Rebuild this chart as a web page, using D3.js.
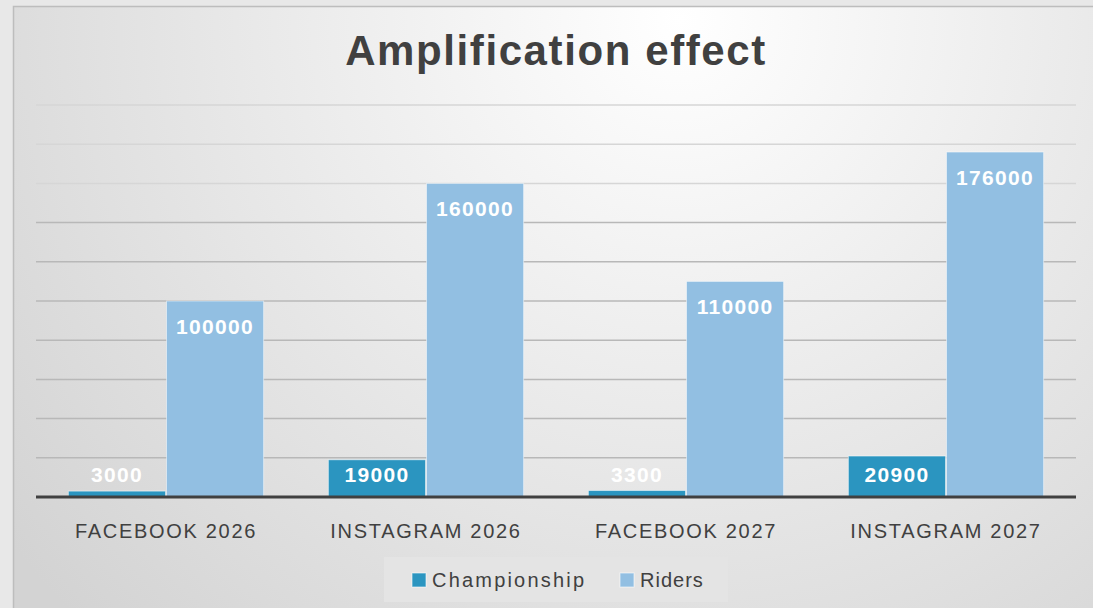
<!DOCTYPE html>
<html lang="en">
<head>
<meta charset="utf-8">
<title>Amplification effect</title>
<script src="https://cdn.jsdelivr.net/npm/d3@7"></script>
<style>
  body { margin: 0; background: #e8e8e8; }
  text { font-family: "Liberation Sans", Arial, sans-serif; }
</style>
</head>
<body>
<script>
// chart data
var categories = ["FACEBOOK 2026", "INSTAGRAM 2026", "FACEBOOK 2027", "INSTAGRAM 2027"];
var seriesNames = ["Championship", "Riders"];
var championship = [3000, 19000, 3300, 20900];
var riders = [100000, 160000, 110000, 176000];
var gridTicks = [0, 20000, 40000, 60000, 80000, 100000, 120000, 140000, 160000, 180000, 200000];

var colors = ["#2b95c0", "#92bfe2"];

var w = 1093, h = 608;
var svg = d3.select("body").append("svg")
  .attr("width", w)
  .attr("height", h);

// background gradient of the chart area
var defs = svg.append("defs");
var grad = defs.append("radialGradient")
  .attr("id", "bg")
  .attr("gradientUnits", "userSpaceOnUse")
  .attr("cx", 680).attr("cy", 20).attr("r", 850);
grad.append("stop").attr("offset", "0%").attr("stop-color", "#ffffff");
grad.append("stop").attr("offset", "100%").attr("stop-color", "#d3d3d3");

svg.append("rect")
  .attr("x", 13.5).attr("y", 6.5)
  .attr("width", w + 20).attr("height", h + 20)
  .attr("fill", "url(#bg)")
  .attr("stroke", "#bdbdbd")
  .attr("stroke-width", 1.5);

// scales
var left = 36, right = 1076;
var x = d3.scaleBand().domain(categories).range([left, right]).paddingInner(0).paddingOuter(0);
var x1 = d3.scaleBand().domain(seriesNames).range([0, x.bandwidth()]).paddingInner(0.01).paddingOuter(0.33);
var y = d3.scaleLinear().domain([0, 200000]).range([497, 105]);

// gridlines
svg.append("g")
  .selectAll("line")
  .data(gridTicks.slice(1))
  .enter()
  .append("line")
  .attr("x1", left).attr("x2", right)
  .attr("y1", function(d) { return y(d); })
  .attr("y2", function(d) { return y(d); })
  .attr("stroke", function(d) { return d > 150000 ? "#d6d6d6" : "#b8b8b8"; })
  .attr("stroke-width", 1.5);

// bars
var rows = categories.map(function(c, i) {
  return [{ s: seriesNames[0], v: championship[i], c: c }, { s: seriesNames[1], v: riders[i], c: c }];
});

var groups = svg.selectAll(".grp")
  .data(rows)
  .enter()
  .append("g")
  .attr("transform", function(d, i) { return "translate(" + x(categories[i]) + ",0)"; });

groups.selectAll("rect")
  .data(function(d) { return d; })
  .enter()
  .append("rect")
  .attr("x", function(d) { return x1(d.s); })
  .attr("y", function(d) { return y(d.v); })
  .attr("width", x1.bandwidth())
  .attr("height", function(d) { return y(0) - y(d.v); })
  .attr("fill", function(d, i) { return colors[i]; })
  .attr("stroke", "#ffffff")
  .attr("stroke-opacity", 0.5)
  .attr("stroke-width", 1);

// value labels
groups.selectAll(".lab")
  .data(function(d) { return d; })
  .enter()
  .append("text")
  .attr("x", function(d) { return x1(d.s) + x1.bandwidth() / 2; })
  .attr("y", function(d) { return Math.min(y(d.v) + 33, y(0) - 15); })
  .attr("text-anchor", "middle")
  .attr("fill", "#ffffff")
  .attr("font-weight", "bold")
  .attr("font-size", "21px")
  .attr("letter-spacing", "1.3px")
  .text(function(d) { return d.v; });

// baseline
svg.append("line")
  .attr("x1", left).attr("x2", right)
  .attr("y1", y(0)).attr("y2", y(0))
  .attr("stroke", "#404040")
  .attr("stroke-width", 3);

// category labels
svg.selectAll(".cat")
  .data(categories)
  .enter()
  .append("text")
  .attr("x", function(d) { return x(d) + x.bandwidth() / 2; })
  .attr("y", 538)
  .attr("text-anchor", "middle")
  .attr("fill", "#404040")
  .attr("font-size", "20px")
  .attr("letter-spacing", "1.7px")
  .text(function(d) { return d; });

// title
svg.append("text")
  .attr("x", 556)
  .attr("y", 65)
  .attr("text-anchor", "middle")
  .attr("fill", "#404040")
  .attr("font-weight", "bold")
  .attr("font-size", "42px")
  .attr("letter-spacing", "1.6px")
  .text("Amplification effect");

// legend
var legend = svg.append("g");
legend.append("rect")
  .attr("x", 384).attr("y", 557)
  .attr("width", 344).attr("height", 45)
  .attr("fill", "#e4e4e4");

var legX = [412, 620];
seriesNames.forEach(function(s, i) {
  legend.append("rect")
    .attr("x", legX[i]).attr("y", 573)
    .attr("width", 14).attr("height", 14)
    .attr("fill", colors[i])
    .attr("stroke", "#ffffff")
    .attr("stroke-opacity", 0.6);
  legend.append("text")
    .attr("x", legX[i] + 20)
    .attr("y", 587)
    .attr("fill", "#404040")
    .attr("font-size", "20px")
    .attr("letter-spacing", i === 0 ? "2.2px" : "1px")
    .text(s);
});
</script>
</body>
</html>
